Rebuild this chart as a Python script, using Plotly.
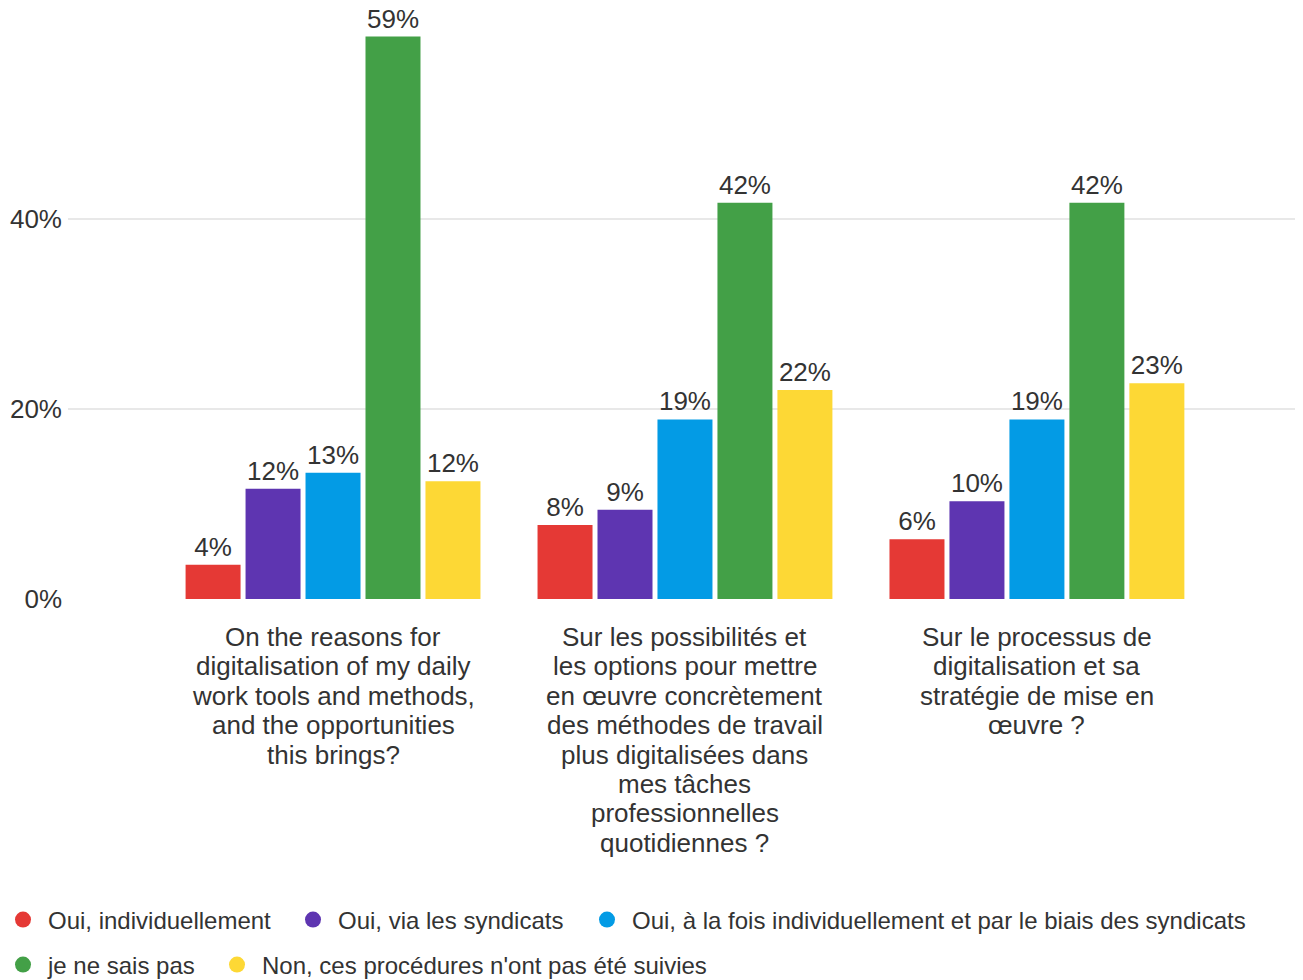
import plotly.graph_objects as go

categories = ["cat1", "cat2", "cat3"]
category_lines = [
    ["On the reasons for", "digitalisation of my daily", "work tools and methods,",
     "and the opportunities", "this brings?"],
    ["Sur les possibilités et", "les options pour mettre", "en œuvre concrètement",
     "des méthodes de travail", "plus digitalisées dans", "mes tâches",
     "professionnelles", "quotidiennes ?"],
    ["Sur le processus de", "digitalisation et sa", "stratégie de mise en", "œuvre ?"],
]
series_names = [
    "Oui, individuellement",
    "Oui, via les syndicats",
    "Oui, à la fois individuellement et par le biais des syndicats",
    "je ne sais pas",
    "Non, ces procédures n'ont pas été suivies",
]
series_values = [
    [3.6, 7.8, 6.3],
    [11.6, 9.4, 10.3],
    [13.3, 18.9, 18.9],
    [59.2, 41.7, 41.7],
    [12.4, 22.0, 22.7],
]
series_colors = ["#E53935", "#5E35B1", "#039BE5", "#43A047", "#FDD835"]
y_ticks = [0, 20, 40]
y_tick_labels = ["0%", "20%", "40%"]

FONT = "Liberation Sans, Arial, sans-serif"
TXT = "#333333"
OFF = 8  # default page body margin
W, H = 1303 - OFF, 980 - OFF
TOP = 12
PLOT_L = 68           # page x of plot left edge
PLOT_W = 1303 - PLOT_L

fig = go.Figure()
for name, vals, col in zip(series_names, series_values, series_colors):
    fig.add_trace(go.Bar(
        x=categories, y=vals, name=name, marker=dict(color=col, line=dict(width=0)),
        text=[f"{round(v)}%" for v in vals], textposition="outside",
        textfont=dict(family=FONT, size=26, color=TXT), cliponaxis=False,
        showlegend=False, hoverinfo="skip",
    ))

# legend entries (circle symbols), one legend per entry for exact placement
legend_pos = [(23, 920), (313, 920), (607, 920), (23, 965), (237, 965)]
legend_ids = ["legend", "legend2", "legend3", "legend4", "legend5"]
for name, col, lid in zip(series_names, series_colors, legend_ids):
    fig.add_trace(go.Scatter(
        x=[None], y=[None], mode="markers", name=name,
        marker=dict(color=col, size=20, symbol="circle"),
        legend=lid, showlegend=True, hoverinfo="skip",
    ))

# category labels, one annotation per line for tight line spacing
for cat, lines in zip(categories, category_lines):
    for j, line in enumerate(lines):
        fig.add_annotation(
            x=cat, y=0, xref="x", yref="y", text=line, showarrow=False,
            yanchor="middle", xanchor="center", yshift=-38 - 29.4 * j,
            font=dict(family=FONT, size=26, color=TXT),
        )

legend_layouts = {}
for lid, (cx, cy) in zip(legend_ids, legend_pos):
    legend_layouts[lid] = dict(
        orientation="h", xref="paper", yref="container",
        x=(cx - 25 - PLOT_L) / PLOT_W, y=1 - (cy - OFF) / H,
        xanchor="left", yanchor="middle",
        itemwidth=40, font=dict(family=FONT, size=24, color=TXT),
        bgcolor="rgba(0,0,0,0)",
    )

fig.update_layout(
    width=W, height=H,
    margin=dict(l=PLOT_L - OFF, r=0, t=TOP, b=980 - 599, autoexpand=False),
    paper_bgcolor="white", plot_bgcolor="white",
    barmode="group", bargap=0.148, bargroupgap=0.083,
    font=dict(family=FONT, size=26, color=TXT),
    xaxis=dict(range=[-0.753, 2.756], showticklabels=False, showgrid=False,
               zeroline=False, showline=False, ticks=""),
    yaxis=dict(range=[0, (599 - OFF - TOP) / 9.5], tickvals=y_ticks, ticktext=y_tick_labels,
               showgrid=True, gridcolor="#e8e8e8", gridwidth=2, zeroline=False,
               showline=False, ticks="", automargin=False, ticklabelstandoff=5,
               tickfont=dict(family=FONT, size=26, color=TXT)),
    showlegend=True,
    **legend_layouts,
)

fig.write_html("out.html")
